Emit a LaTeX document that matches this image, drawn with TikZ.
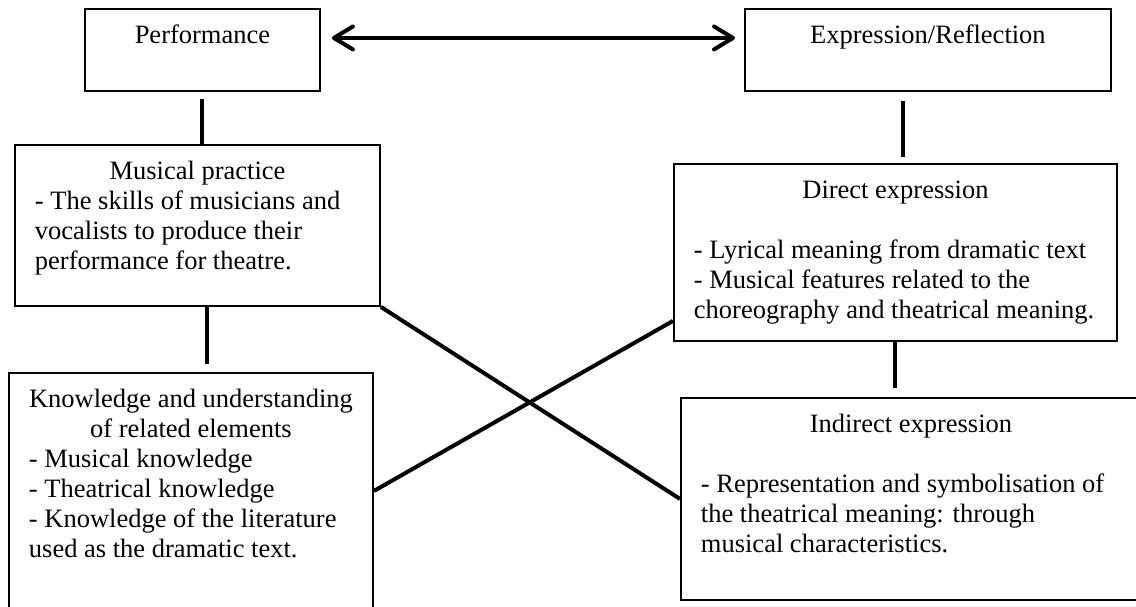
\documentclass[tikz,border=0pt]{standalone}
\usepackage{fontspec}
\setmainfont{Liberation Serif}
\usepackage{tikz}
\usetikzlibrary{positioning,arrows.meta}
\newcommand{\panelbox}[3]{\parbox[c][#2][t]{#1}{#3}}
\newcommand{\toptitle}[1]{\centering\rule{0pt}{35pt}#1\par}
\newcommand{\bodystart}{\raggedright\leftskip=10pt\relax}
\tikzset{
  panel/.style  = {draw, line width=1.9pt, anchor=north west, inner xsep=10pt, inner ysep=0pt,
                   font=\fontsize{26.5pt}{30pt}\selectfont},
  link/.style   = {line width=4pt},
  twoway/.style = {{Straight Barb[length=19pt,width=23pt,round]}-{Straight Barb[length=19pt,width=23pt,round]},
                   line width=4pt},
}
\begin{document}
\begin{tikzpicture}[x=1pt,y=-1pt]
\useasboundingbox (0,0) rectangle (1136,606);

\node[panel] (perf) at (84,8) {\panelbox{215pt}{82pt}{\toptitle{Performance}}};
\node[panel] (expr) at (744,8) {\panelbox{346pt}{82pt}{\toptitle{Expression/Reflection}}};

\node[panel] (practice) at (14,144) {\panelbox{345pt}{161pt}{\toptitle{Musical practice}
  \bodystart - The skills of musicians and\\
  vocalists to produce their\\
  performance for theatre.}};
\node[panel] (knowl) at (8,372) {\panelbox{344pt}{236pt}{\toptitle{Knowledge and understanding\\ of related elements}
  \bodystart - Musical knowledge\\
  - Theatrical knowledge\\
  - Knowledge of the literature\\
  used as the dramatic text.}};

\node[panel] (direct) at (673,163) {\panelbox{423pt}{177pt}{\toptitle{Direct expression}
  \bodystart\mbox{}\\
  - Lyrical meaning from dramatic text\\
  - Musical features related to the\\
  choreography and theatrical meaning.}};
\node[panel] (indirect) at (680,397) {\panelbox{440pt}{202pt}{\toptitle{Indirect expression}
  \bodystart\mbox{}\\
  - Representation and symbolisation of\\
  the theatrical meaning: through\\
  musical characteristics.}};

\draw[twoway] ([xshift=11pt,yshift=12pt]perf.east) -- ([xshift=-9pt,yshift=12pt]expr.west);
\draw[link] ([yshift=-7pt]perf.south) -- (perf.south |- practice.north);
\draw[link] ([xshift=10pt]practice.south) -- ([xshift=10pt,yshift=8pt]practice.south |- knowl.north);
\draw[link] ([xshift=-25pt,yshift=-9pt]expr.south) -- ([xshift=-25pt,yshift=6pt]expr.south |- direct.north);
\draw[link] (direct.south) -- ([yshift=9pt]direct.south |- indirect.north);
\draw[link] (practice.south east) -- (indirect.west);
\draw[link] (knowl.east) -- ([yshift=21pt]direct.south west);

\end{tikzpicture}
\end{document}
